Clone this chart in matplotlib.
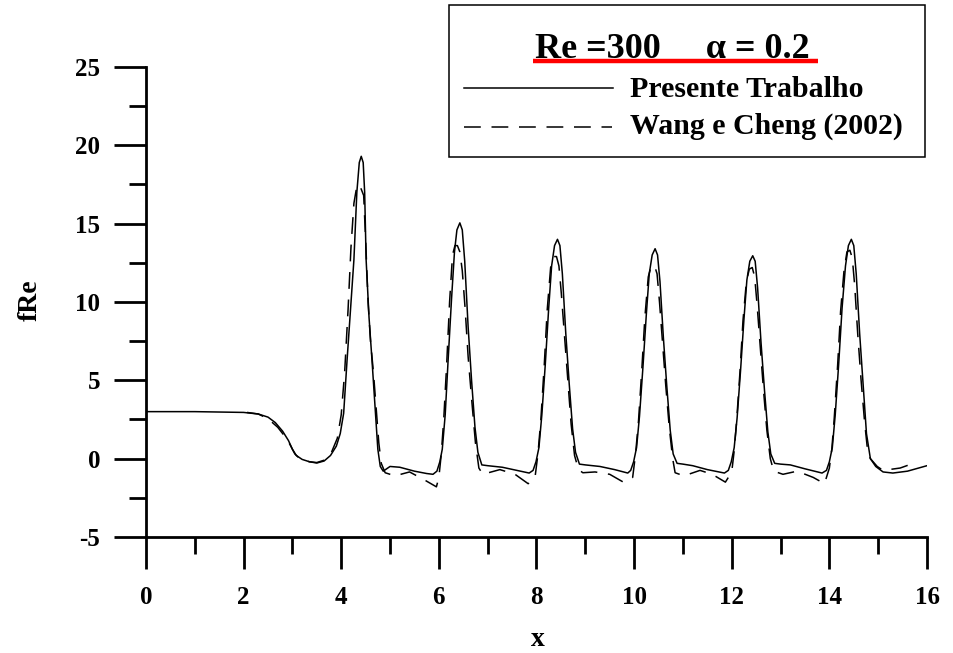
import numpy as np
import matplotlib
matplotlib.use("Agg")
import matplotlib.pyplot as plt
from matplotlib.lines import Line2D
from matplotlib.patches import Rectangle
from matplotlib.ticker import MultipleLocator

# Presente Trabalho (solid)
x_pt = [0.0, 1.0, 2.0, 2.3, 2.5, 2.65, 2.8, 2.92, 3.0, 3.08, 3.2, 3.35, 3.5, 3.65, 3.78, 3.9,
        3.98, 4.05, 4.12, 4.2, 4.26, 4.32, 4.37, 4.41, 4.45, 4.48, 4.51, 4.57, 4.63, 4.7, 4.75,
        4.8, 4.86, 5.0, 5.2, 5.5, 5.75, 5.88,
        5.96, 6.02, 6.07, 6.13, 6.19, 6.26, 6.32, 6.37, 6.43, 6.48, 6.53, 6.6, 6.67, 6.74, 6.8, 6.88,
        7.0, 7.3, 7.6, 7.85,
        7.93, 7.99, 8.05, 8.11, 8.18, 8.25, 8.31, 8.37, 8.43, 8.48, 8.53, 8.6, 8.67, 8.74, 8.8, 8.88,
        9.0, 9.3, 9.6, 9.87,
        9.93, 9.99, 10.05, 10.11, 10.18, 10.25, 10.31, 10.37, 10.43, 10.48, 10.53, 10.6, 10.67,
        10.74, 10.8, 10.88,
        11.0, 11.2, 11.5, 11.85,
        11.93, 11.99, 12.05, 12.11, 12.18, 12.25, 12.31, 12.37, 12.43, 12.48, 12.53, 12.6, 12.67,
        12.74, 12.8, 12.88,
        13.0, 13.2, 13.5, 13.85,
        13.94, 14.0, 14.06, 14.12, 14.19, 14.26, 14.33, 14.39, 14.45, 14.5, 14.55, 14.62, 14.69,
        14.76, 14.84, 14.95, 15.1, 15.3, 15.6, 16.0]
f_pt = [3.0, 3.0, 2.95, 2.85, 2.65, 2.3, 1.75, 1.15, 0.6, 0.2, -0.05, -0.2, -0.28, -0.15, 0.2, 0.8,
        1.6, 2.9, 6.3, 10.0, 12.7, 17.0, 18.9, 19.3, 18.9, 17.0, 12.7, 9.0, 6.3, 3.0, 0.6,
        -0.5, -0.8, -0.5, -0.55, -0.8, -0.95, -1.0,
        -0.8, -0.2, 0.6, 2.8, 6.3, 10.2, 13.2, 14.6, 15.05, 14.6, 12.6, 8.4, 5.0, 2.0, 0.4, -0.4,
        -0.45, -0.55, -0.75, -0.92,
        -0.75, -0.2, 0.7, 2.8, 6.0, 9.6, 12.3, 13.6, 14.0, 13.6, 11.8, 8.0, 4.8, 1.9, 0.4, -0.35,
        -0.4, -0.5, -0.7, -0.92,
        -0.75, -0.2, 0.7, 2.7, 5.8, 9.2, 11.8, 13.0, 13.4, 13.0, 11.3, 7.7, 4.6,
        1.8, 0.3, -0.3,
        -0.35, -0.45, -0.7, -0.92,
        -0.75, -0.2, 0.7, 2.6, 5.6, 8.9, 11.4, 12.6, 12.95, 12.6, 10.9, 7.4, 4.4,
        1.7, 0.3, -0.3,
        -0.35, -0.4, -0.65, -0.92,
        -0.75, -0.2, 0.7, 2.8, 6.0, 9.6, 12.3, 13.6, 14.0, 13.6, 11.8, 8.0, 4.8,
        1.6, 0.0, -0.5, -0.85, -0.92, -0.8, -0.45]

# Wang e Cheng (2002) (dashed)
x_wc = [2.07, 2.3, 2.5, 2.7, 2.85, 2.95, 3.05, 3.15, 3.35, 3.5, 3.65, 3.8, 3.92, 4.0, 4.07, 4.14,
        4.2, 4.26, 4.32, 4.36, 4.41, 4.46, 4.5, 4.55, 4.6, 4.66, 4.72, 4.77, 4.82, 4.9, 5.1, 5.4,
        5.7, 5.95, 6.0, 6.05, 6.1, 6.16, 6.22, 6.28, 6.33, 6.38, 6.43, 6.48, 6.54, 6.6, 6.68,
        6.75, 6.82, 6.9, 7.25, 7.56, 7.83, 7.97, 8.03, 8.09, 8.16, 8.22, 8.29, 8.35, 8.41, 8.46,
        8.51, 8.57, 8.64, 8.71, 8.78, 8.86, 8.95, 9.2, 9.5, 9.78, 9.97, 10.03, 10.09, 10.16,
        10.22, 10.29, 10.35, 10.42, 10.47, 10.52, 10.58, 10.65, 10.72, 10.79, 10.84, 11.02,
        11.35, 11.6, 11.87, 12.0, 12.05, 12.1, 12.17, 12.23, 12.3, 12.36, 12.42, 12.47, 12.52,
        12.58, 12.65, 12.72, 12.79, 12.86, 13.05, 13.34, 13.67, 13.9, 14.0, 14.05, 14.1, 14.17,
        14.23, 14.3, 14.36, 14.42, 14.47, 14.52, 14.58, 14.65, 14.72, 14.78, 14.84, 14.98, 15.1,
        15.45, 15.72]
f_wc = [2.95, 2.85, 2.55, 2.0, 1.4, 0.9, 0.3, 0.0, -0.2, -0.25, -0.1, 0.4, 1.3, 2.8, 5.5, 9.5,
        13.5, 16.3, 17.4, 17.5, 17.2, 16.8, 14.0, 10.0, 7.5, 5.5, 3.0, 1.0, -0.3, -0.9, -1.1, -0.85,
        -1.35, -1.8, -1.2, 0.3, 2.5, 6.0, 10.0, 13.0, 13.6, 13.6, 13.2, 12.0, 9.5, 6.5, 3.5,
        1.0, -0.6, -1.0, -0.7, -1.0, -1.6, -1.2, 0.3, 2.5, 6.0, 9.5, 12.2, 12.9, 12.9, 12.3,
        10.5, 8.0, 5.0, 2.2, 0.2, -0.7, -0.9, -0.85, -1.0, -1.5, -1.2, 0.3, 2.4, 5.8,
        9.0, 11.6, 12.3, 12.3, 11.8, 10.0, 7.5, 4.6, 2.0, 0.0, -0.9, -1.1,
        -0.75, -1.0, -1.5, -0.85, 0.5, 2.4, 5.6, 8.8, 11.3, 12.1, 12.2, 11.6, 9.8,
        7.3, 4.4, 1.8, 0.0, -0.8, -1.0, -0.8, -1.2, -1.6, -0.6, 0.6, 2.6, 6.0,
        9.4, 12.0, 13.2, 13.3, 12.8, 11.0, 8.0, 5.0, 2.4, 0.6, 0.0, -0.5, -0.75,
        -0.6, -0.3]

plt.rcParams['font.family'] = ['Liberation Serif', 'DejaVu Serif']
plt.rcParams['font.weight'] = 'bold'
plt.rcParams['axes.unicode_minus'] = False

fig = plt.figure(figsize=(9.54, 6.53), dpi=100)
ax = fig.add_axes([0.153, 0.1777, 0.8187, 0.7197])

ax.plot(x_pt, f_pt, color='black', lw=1.1)
ax.plot(x_wc, f_wc, color='black', lw=1.1, dashes=(11, 7))

ax.set_xlim(0, 16)
ax.set_ylim(-5, 25)
ax.xaxis.set_major_locator(MultipleLocator(2))
ax.xaxis.set_minor_locator(MultipleLocator(1))
ax.yaxis.set_major_locator(MultipleLocator(5))
ax.yaxis.set_minor_locator(MultipleLocator(2.5))

for side in ['top', 'right']:
    ax.spines[side].set_visible(False)
for side in ['left', 'bottom']:
    ax.spines[side].set_linewidth(2.0)

ax.tick_params(which='major', direction='out', length=23, width=2.0, labelsize=18)
ax.tick_params(which='minor', direction='out', length=12, width=2.0)
ax.tick_params(axis='y', which='major', pad=10)
ax.tick_params(axis='x', which='major', pad=12)
for lab in ax.get_xticklabels() + ax.get_yticklabels():
    lab.set_fontweight('bold')

ax.set_xlabel('x', fontsize=20, fontweight='bold', va='center')
ax.set_ylabel('fRe', fontsize=20, fontweight='bold', va='center')
ax.xaxis.set_label_coords(0.502, -0.219)
ax.yaxis.set_label_coords(-0.1485, 0.504)

# legend box drawn by hand (figure pixel coords)
W, H = 954.0, 653.0
def fx(px):
    return px / W
def fy(py):
    return 1 - py / H

fig.add_artist(Rectangle((fx(449), fy(157)), fx(925) - fx(449), fy(5) - fy(157),
                         transform=fig.transFigure, fill=False, lw=1.1, ec='black'))
fig.text(fx(672), fy(58), 'Re =300     \u03b1 = 0.2', fontsize=26, fontweight='bold',
         ha='center', va='baseline')
fig.add_artist(Line2D([fx(533), fx(818)], [fy(61), fy(61)], transform=fig.transFigure,
                      color='red', lw=3.2, solid_capstyle='butt'))
fig.add_artist(Line2D([fx(464), fx(613)], [fy(88), fy(88)], transform=fig.transFigure,
                      color='black', lw=1.1))
fig.add_artist(Line2D([fx(464), fx(612)], [fy(127), fy(127)], transform=fig.transFigure,
                      color='black', lw=1.1, dashes=(11, 7)))
fig.text(fx(630), fy(97), 'Presente Trabalho', fontsize=21.5, fontweight='bold',
         ha='left', va='baseline')
fig.text(fx(630), fy(134), 'Wang e Cheng (2002)', fontsize=21.5, fontweight='bold',
         ha='left', va='baseline')

fig.savefig('out.png', dpi=100)
